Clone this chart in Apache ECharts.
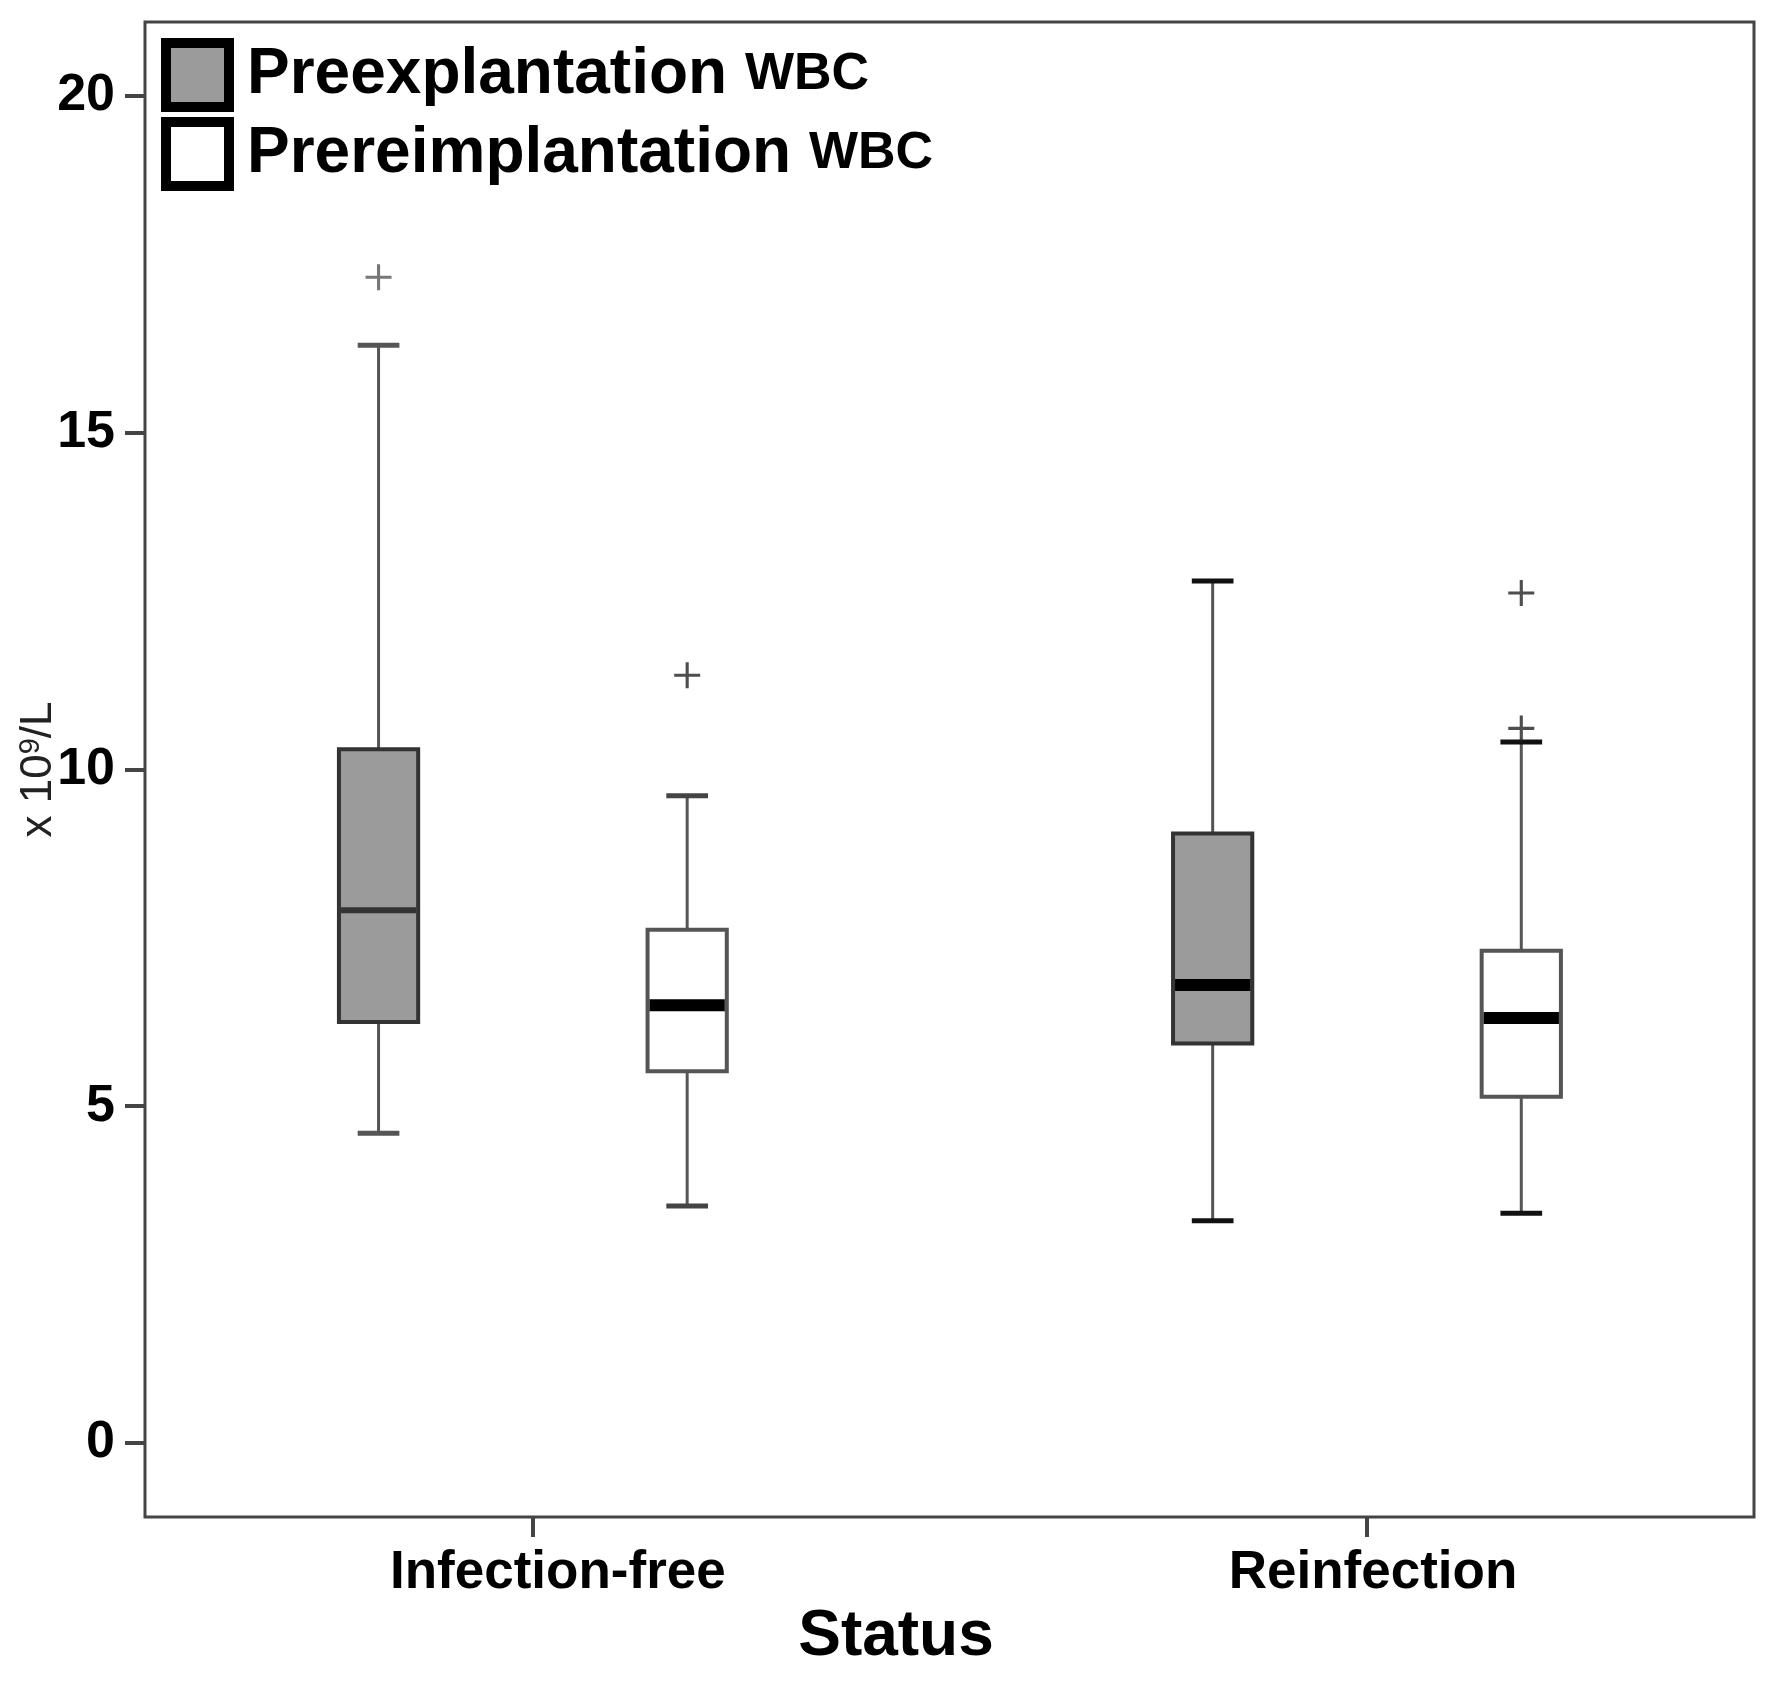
<!DOCTYPE html>
<html>
<head>
<meta charset="utf-8">
<title>WBC by status</title>
<script src="https://cdn.jsdelivr.net/npm/echarts@6/dist/echarts.min.js"></script>
<style>
    html, body { margin: 0; padding: 0; background: #fff; }
    #chart { width: 1786px; height: 1684px; }
</style>
</head>
<body>
<div id="chart"></div>
<script>
// x categories
var categories = ['Infection-free', 'Reinfection'];
var seriesNames = ['Preexplantation', 'Prereimplantation'];

// per category: [lower whisker, Q1, median, Q3, upper whisker]  (x 10^9/L)
var preexplantationBoxes = [
    [4.60, 6.25, 7.91, 10.30, 16.30],
    [3.30, 5.93, 6.80, 9.05, 12.80]
];
var prereimplantationBoxes = [
    [3.52, 5.52, 6.50, 7.62, 9.61],
    [3.41, 5.14, 6.31, 7.31, 10.41]
];
// outliers: [category index, value]
var preexplantationOutliers = [[0, 17.31]];
var prereimplantationOutliers = [[0, 11.40], [1, 12.62], [1, 10.61]];

var yTicks = [0, 5, 10, 15, 20];

var FONT = '"Liberation Sans", Arial, sans-serif';
// sizes in x-axis units (one category step = 1)
var BOX_W = 0.095;
var CAP_W = 0.05;
var SHIFT = 0.185;

// 十字形的离群点
var plusSymbol = 'path://M4.4,0H5.6V4.4H10V5.6H5.6V10H4.4V5.6H0V4.4H4.4Z';

function toBoxData(boxes) {
    return boxes.map(function (b, i) {
        return [i + 1].concat(b);
    });
}
function toOutlierData(list, shift) {
    return list.map(function (o) {
        return [o[0] + 1 + shift, o[1]];
    });
}

function boxRenderer(shift, fill, border, medians, capColor) {
    return function (params, api) {
        var x = api.value(0) + shift;
        var lo = api.coord([x, api.value(1)]);
        var q1 = api.coord([x, api.value(2)]);
        var md = api.coord([x, api.value(3)]);
        var q3 = api.coord([x, api.value(4)]);
        var hi = api.coord([x, api.value(5)]);
        var bw = api.size([BOX_W, 0])[0];
        var cw = api.size([CAP_W, 0])[0];
        var cx = md[0];
        var m = medians[params.dataIndex];
        var whisker = { stroke: '#555', lineWidth: 3 };
        var cap = { stroke: capColor[params.dataIndex], lineWidth: 5 };
        return {
            type: 'group',
            children: [
                { type: 'line', shape: { x1: cx, y1: hi[1], x2: cx, y2: q3[1] }, style: whisker },
                { type: 'line', shape: { x1: cx, y1: q1[1], x2: cx, y2: lo[1] }, style: whisker },
                { type: 'line', shape: { x1: cx - cw / 2, y1: hi[1], x2: cx + cw / 2, y2: hi[1] }, style: cap },
                { type: 'line', shape: { x1: cx - cw / 2, y1: lo[1], x2: cx + cw / 2, y2: lo[1] }, style: cap },
                {
                    type: 'rect',
                    shape: { x: cx - bw / 2, y: q3[1], width: bw, height: q1[1] - q3[1] },
                    style: { fill: fill, stroke: border, lineWidth: 4 }
                },
                {
                    type: 'line',
                    shape: { x1: cx - bw / 2 + 2, y1: md[1], x2: cx + bw / 2 - 2, y2: md[1] },
                    style: { stroke: m.color, lineWidth: m.width }
                }
            ]
        };
    };
}

var myChart = echarts.init(document.getElementById('chart'));

var option = {
    backgroundColor: '#fff',
    animation: false,
    grid: {
        left: 145,
        right: 32,
        top: 22,
        bottom: 167,
        show: true,
        borderColor: '#444',
        borderWidth: 3,
        outerBoundsMode: 'none'
    },
    legend: {
        orient: 'vertical',
        left: 161,
        top: 38,
        padding: 0,
        itemGap: 5,
        itemWidth: 63,
        itemHeight: 64,
        selectedMode: false,
        data: [
            { name: seriesNames[0], icon: 'rect', itemStyle: { color: '#9b9b9b', borderColor: '#000', borderWidth: 10 } },
            { name: seriesNames[1], icon: 'rect', itemStyle: { color: '#fff', borderColor: '#000', borderWidth: 10 } }
        ],
        formatter: function (name) {
            return '{a|' + name + '} {b|WBC}';
        },
        textStyle: {
            fontFamily: FONT,
            fontSize: 64,
            fontWeight: 'bold',
            color: '#000',
            padding: [0, 0, 0, 13],
            rich: {
                a: { fontFamily: FONT, fontSize: 64, fontWeight: 'bold', color: '#000', lineHeight: 70 },
                b: { fontFamily: FONT, fontSize: 52, fontWeight: 'bold', color: '#000', lineHeight: 70 }
            }
        }
    },
    xAxis: {
        type: 'value',
        min: 0.535,
        max: 2.464,
        name: 'Status',
        nameLocation: 'middle',
        nameGap: 85,
        nameTextStyle: {
            fontFamily: FONT,
            fontSize: 64,
            fontWeight: 'bold',
            color: '#000',
            padding: [0, 107, 0, 0]
        },
        axisLine: { show: false, onZero: false },
        splitLine: { show: false },
        axisTick: {
            customValues: [1, 2],
            length: 20,
            lineStyle: { color: '#444', width: 4 }
        },
        axisLabel: {
            customValues: [1, 2],
            margin: 30,
            formatter: function (v) {
                var i = Math.round(v) - 1;
                return '{c' + i + '|' + categories[i] + '}';
            },
            rich: {
                c0: { fontFamily: FONT, fontSize: 53, fontWeight: 'bold', color: '#000', padding: [0, 0, 0, 50] },
                c1: { fontFamily: FONT, fontSize: 53, fontWeight: 'bold', color: '#000', padding: [0, 0, 0, 12] }
            }
        }
    },
    yAxis: {
        type: 'value',
        min: -1.1,
        max: 21.1,
        name: '{n|x 10}{s|9}{n|/L}',
        nameLocation: 'middle',
        nameRotate: 90,
        nameGap: 83,
        nameMoveOverlap: false,
        nameTextStyle: {
            rich: {
                n: { fontFamily: FONT, fontSize: 44, color: '#222', lineHeight: 46 },
                s: { fontFamily: FONT, fontSize: 29, color: '#222', verticalAlign: 'top', lineHeight: 46 }
            }
        },
        axisLine: { show: false, onZero: false },
        splitLine: { show: false },
        axisTick: {
            customValues: yTicks,
            length: 20,
            lineStyle: { color: '#444', width: 4 }
        },
        axisLabel: {
            customValues: yTicks,
            margin: 30,
            fontFamily: FONT,
            fontSize: 52,
            fontWeight: 'bold',
            color: '#000'
        }
    },
    series: [
        {
            name: seriesNames[0],
            type: 'custom',
            clip: false,
            itemStyle: { color: '#9b9b9b' },
            renderItem: boxRenderer(-SHIFT, '#9b9b9b', '#333', [
                { color: '#333', width: 6 },
                { color: '#000', width: 12 }
            ], ['#555', '#111']),
            encode: { x: 0, y: [1, 2, 3, 4, 5] },
            data: toBoxData(preexplantationBoxes)
        },
        {
            name: seriesNames[1],
            type: 'custom',
            clip: false,
            itemStyle: { color: '#fff' },
            renderItem: boxRenderer(SHIFT, '#fff', '#555', [
                { color: '#000', width: 12 },
                { color: '#000', width: 12 }
            ], ['#444', '#111']),
            encode: { x: 0, y: [1, 2, 3, 4, 5] },
            data: toBoxData(prereimplantationBoxes)
        },
        {
            name: 'outliers-pre',
            type: 'scatter',
            symbol: plusSymbol,
            symbolSize: 26,
            itemStyle: { color: '#555' },
            data: toOutlierData(preexplantationOutliers, -SHIFT)
        },
        {
            name: 'outliers-re',
            type: 'scatter',
            symbol: plusSymbol,
            symbolSize: 26,
            itemStyle: { color: '#222' },
            data: toOutlierData(prereimplantationOutliers, SHIFT)
        }
    ]
};

myChart.setOption(option);
window.onresize = myChart.resize;
</script>
</body>
</html>
